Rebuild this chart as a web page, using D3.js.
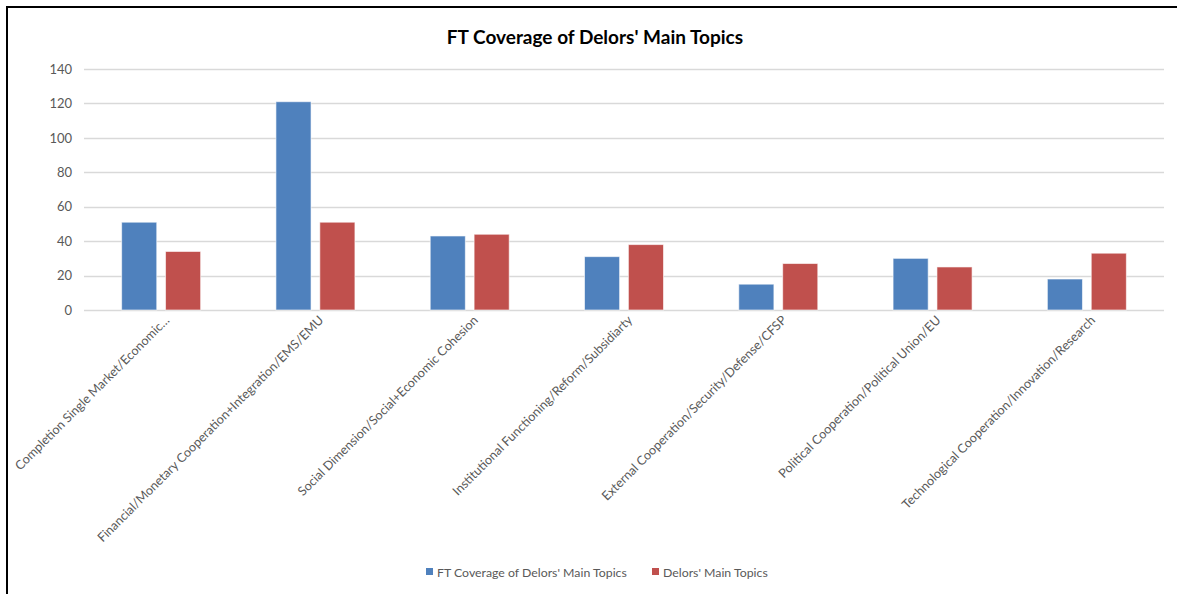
<!DOCTYPE html>
<html lang="en">
<head>
  <meta charset="UTF-8">
  <title>FT Coverage of Delors' Main Topics</title>
  <script src="https://d3js.org/d3.v7.min.js"></script>
  <style>
    body {
      margin: 0;
      background: #fff;
      font-family: Lato, "Open Sans", sans-serif;
    }
    svg { display: block; }
  </style>
</head>
<body>
  <div id="chart"></div>

  <script>
    const categories = [
      "Completion Single Market/Economic\u2026",
      "Financial/Monetary Cooperation+Integration/EMS/EMU",
      "Social Dimension/Social+Economic Cohesion",
      "Institutional Functioning/Reform/Subsidiarty",
      "External Cooperation/Security/Defense/CFSP",
      "Political Cooperation/Political Union/EU",
      "Technological Cooperation/Innovation/Research"
    ];
    const seriesNames = ["FT Coverage of Delors' Main Topics", "Delors' Main Topics"];
    const ftCoverage = [51, 121, 43, 31, 15, 30, 18];
    const delorsTopics = [34, 51, 44, 38, 27, 25, 33];
    const yTicks = [0, 20, 40, 60, 80, 100, 120, 140];
    const colors = ["#4f81bd", "#c0504d"];

    const width = 1177, height = 594;
    const margin = { top: 69, right: 13, bottom: 284, left: 84 };

    const data = categories.map((c, i) => ({ cat: c, values: [ftCoverage[i], delorsTopics[i]] }));

    const svg = d3.select("#chart").append("svg")
      .attr("width", width)
      .attr("height", height);

    // frame (top and left edges visible)
    svg.append("path")
      .attr("d", `M7,${height} V7 H${width}`)
      .attr("fill", "none")
      .attr("stroke", "#000")
      .attr("stroke-width", 2);

    const x0 = d3.scaleBand()
      .domain(categories)
      .range([margin.left, width - margin.right])
      .paddingInner(0.488)
      .paddingOuter(0.244);

    const x1 = d3.scaleBand()
      .domain([0, 1])
      .range([0, x0.bandwidth()])
      .paddingInner(0.2);

    const y = d3.scaleLinear()
      .domain([0, 140])
      .range([height - margin.bottom, margin.top]);

    // gridlines
    svg.append("g")
      .selectAll("line")
      .data(yTicks)
      .join("line")
        .attr("x1", margin.left)
        .attr("x2", width - margin.right)
        .attr("y1", d => Math.round(y(d)) + 0.5)
        .attr("y2", d => Math.round(y(d)) + 0.5)
        .attr("stroke", "#d9d9d9")
        .attr("stroke-width", 1.3);

    // y axis labels
    svg.append("g")
      .attr("transform", `translate(${margin.left - 12},0)`)
      .call(d3.axisLeft(y).tickValues(yTicks).tickSize(0).tickPadding(0))
      .call(g => g.select(".domain").remove())
      .selectAll("text")
        .attr("fill", "#595959")
        .style("font-size", "13px")
        .style("font-family", "Lato, sans-serif");

    // bars
    svg.append("g")
      .selectAll("g")
      .data(data)
      .join("g")
        .attr("transform", d => `translate(${x0(d.cat)},0)`)
      .selectAll("rect")
      .data(d => d.values.map((v, i) => ({ i, v })))
      .join("rect")
        .attr("x", d => x1(d.i))
        .attr("y", d => y(d.v))
        .attr("width", x1.bandwidth())
        .attr("height", d => y(0) - y(d.v))
        .attr("fill", d => colors[d.i])
        .attr("stroke", "#fff")
        .attr("stroke-opacity", 0.6)
        .attr("stroke-width", 1);

    // x axis labels, rotated
    svg.append("g")
      .selectAll("text")
      .data(categories)
      .join("text")
        .attr("transform", d => `translate(${x0(d) + x0.bandwidth() / 2 + 9},${y(0) + 11}) rotate(-45)`)
        .attr("text-anchor", "end")
        .attr("fill", "#595959")
        .style("font-size", "12.6px")
        .text(d => d);

    // title
    svg.append("text")
      .attr("x", 595)
      .attr("y", 44)
      .attr("text-anchor", "middle")
      .attr("fill", "#000")
      .style("font-size", "19px")
      .style("font-weight", "bold")
      .text("FT Coverage of Delors' Main Topics");

    // legend
    const legend = svg.append("g").attr("transform", "translate(426,572)");
    const legendX = [0, 226];
    seriesNames.forEach((name, i) => {
      const g = legend.append("g").attr("transform", `translate(${legendX[i]},0)`);
      g.append("rect")
        .attr("x", 0).attr("y", -4)
        .attr("width", 7).attr("height", 7)
        .attr("fill", colors[i]);
      g.append("text")
        .attr("x", 11).attr("y", 4.5)
        .attr("fill", "#595959")
        .style("font-size", "12.3px")
        .text(name);
    });
  </script>
</body>
</html>
